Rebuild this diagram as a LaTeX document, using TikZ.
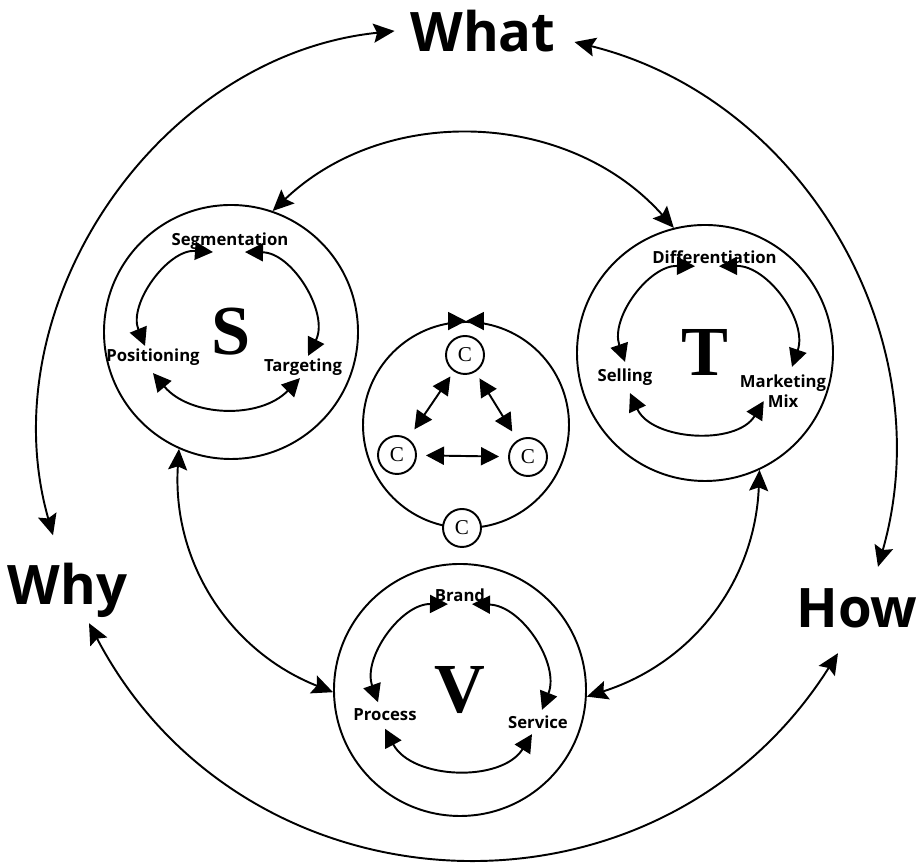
\documentclass[tikz,border=0pt]{standalone}
\usepackage{fontspec}
\usepackage{tikz}
\usetikzlibrary{positioning, calc, arrows.meta}
\newfontfamily\wordfont{Open Sans}
\newfontfamily\letterfont{Liberation Serif}

\begin{document}
\begin{tikzpicture}[
        line width=1.1pt,
        >={Stealth[length=0.42cm,width=0.38cm,inset=0.07cm]},
        smalltip/.style={>={Triangle[length=0.36cm,width=0.36cm]}},
        word/.style={font=\wordfont\bfseries\fontsize{31}{31}\selectfont, inner sep=0.3cm},
        lbl/.style={font=\wordfont\bfseries\fontsize{9.5}{11.4}\selectfont, inner sep=1pt},
        ring/.style={draw, circle, inner sep=0pt, font=\letterfont\bfseries\fontsize{40}{40}\selectfont},
        cnode/.style={draw, circle, fill=white, minimum size=0.76cm, inner sep=0pt, font=\letterfont\fontsize{12}{12}\selectfont}
    ]
        \useasboundingbox (0,0) rectangle (18.38,17.30);

        % Outer words
        \node[word] (what) at (9.66,16.68) {What};
        \node[word] (why) at (1.35,5.50) {Why};
        \node[word] (how) at (17.14,5.14) {How};

        % Three rings
        \node[ring, minimum size=5.08cm] (S) at (4.62,10.66) {S};
        \node[ring, minimum size=5.12cm] (T) at (14.10,10.24) {T};
        \node[ring, minimum size=5.04cm] (V) at (9.20,3.50) {V};

        % Centre ring with the C circles
        \node[draw, circle, minimum size=4.12cm] (core) at (9.32,8.80) {};
        \node[cnode] (c1) at (9.30,10.20) {C};
        \node[cnode] (c2) at (7.94,8.20) {C};
        \node[cnode] (c3) at (10.56,8.16) {C};
        \node[cnode] (c4) at (9.24,6.74) {C};

        % Labels inside the rings
        \node[lbl] (seg) at (4.60,12.48) {Segmentation};
        \node[lbl] (pos) at (3.06,10.16) {Positioning};
        \node[lbl] (tar) at (6.06,9.96) {Targeting};
        \node[lbl] (diff) at (14.29,12.16) {Differentiation};
        \node[lbl] (sel) at (12.50,9.76) {Selling};
        \node[lbl, align=center] (mkt) at (15.66,9.48) {Marketing\\Mix};
        \node[lbl] (brand) at (9.20,5.40) {Brand};
        \node[lbl] (proc) at (7.70,3.00) {Process};
        \node[lbl] (serv) at (10.76,2.86) {Service};

        % Outer arcs between the words
        \draw[<->] (what.west) to[bend right=50] ([xshift=-0.29cm,yshift=0.23cm]why.north);
        \draw[<->] ([xshift=0.06cm,yshift=-0.22cm]what.east) to[bend left=46] ([xshift=0.42cm,yshift=0.11cm]how.north);
        \draw[<->] ([xshift=0.43cm,yshift=0.2cm]why.south) to[bend right=60, looseness=1.15] ([xshift=-0.38cm,yshift=-0.19cm]how.south);

        % Arcs between the rings
        \draw[<->] (S.71) to[bend left=46] (T.104);
        \draw[<->] (S.246) to[bend right=36] (V.181);
        \draw[<->] (T.295) to[bend left=35] (V.357);

        % Arcs inside S
        \draw[smalltip, <->] ([xshift=-0.34cm]seg.south) to[bend right=58] ([xshift=-0.16cm]pos.north);
        \draw[smalltip, <->] ([xshift=0.30cm]seg.south) to[bend left=58] ([xshift=0.10cm]tar.north);
        \draw[smalltip, <->] ([yshift=-0.1cm]pos.south) to[bend right=48] ([xshift=-0.06cm]tar.south);

        % Arcs inside T
        \draw[smalltip, <->] ([xshift=-0.39cm]diff.south) to[bend right=55] ([yshift=0.08cm]sel.north);
        \draw[smalltip, <->] ([xshift=0.09cm]diff.south) to[bend left=55] ([xshift=0.18cm,yshift=0.1cm]mkt.north);
        \draw[smalltip, <->] ([xshift=0.1cm,yshift=-0.1cm]sel.south) to[bend right=62] ([xshift=0.53cm,yshift=0.18cm]mkt.south west);

        % Arcs inside V
        \draw[smalltip, <->] ([xshift=-0.24cm]brand.south) to[bend right=55] ([xshift=-0.14cm,yshift=0.08cm]proc.north);
        \draw[smalltip, <->] ([xshift=0.24cm]brand.south) to[bend left=55] ([xshift=0.08cm,yshift=0.06cm]serv.north);
        \draw[smalltip, <->] ([yshift=-0.1cm]proc.south) to[bend right=60] ([xshift=-0.12cm,yshift=-0.06cm]serv.south);

        % Arrows between the C circles
        \draw[smalltip, <->, shorten <=0.12cm, shorten >=0.22cm] (c1) -- (c2);
        \draw[smalltip, <->, shorten <=0.15cm, shorten >=0.2cm] (c1) -- (c3);
        \draw[smalltip, <->, shorten <=0.18cm, shorten >=0.18cm] (c2) -- (c3);

        % Two heads meeting on top of the centre ring
        \draw[smalltip, ->] (core.100) arc[start angle=100, end angle=90, radius=2.08cm];
        \draw[smalltip, ->] (core.80) arc[start angle=80, end angle=90, radius=2.08cm];
    \end{tikzpicture}
\end{document}
